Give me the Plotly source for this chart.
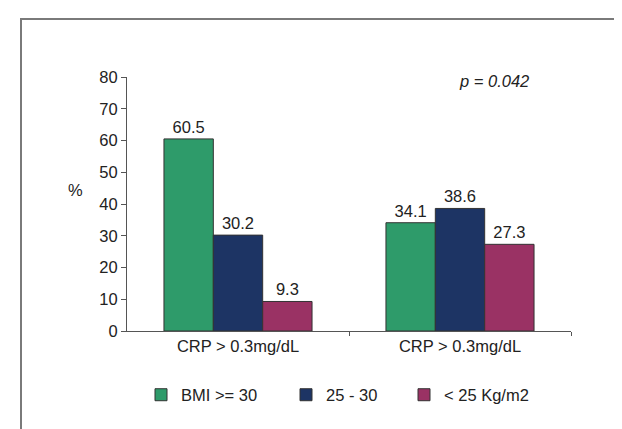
import plotly.graph_objects as go

categories = ["CRP > 0.3mg/dL", "CRP > 0.3mg/dL"]
series_names = ["BMI >= 30", "25 - 30", "< 25 Kg/m2"]
bmi_over_30 = [60.5, 34.1]
bmi_25_30 = [30.2, 38.6]
bmi_under_25 = [9.3, 27.3]
y_ticks = [0, 10, 20, 30, 40, 50, 60, 70, 80]
p_text = "p = 0.042"

colors = ["#2E9B6A", "#1D3464", "#9A3264"]
FONT = "Liberation Sans, Arial, sans-serif"
FS = 16.5

xpos = list(range(len(categories)))
series = [bmi_over_30, bmi_25_30, bmi_under_25]
legend_names = ["legend", "legend2", "legend3"]
legend_x_px = [133, 278, 396]  # left edge of each legend box (pixels)

fig = go.Figure()
for name, vals, col, lg in zip(series_names, series, colors, legend_names):
    fig.add_trace(go.Bar(
        x=xpos, y=vals, name=name, legend=lg,
        marker=dict(color=col, line=dict(color="#333333", width=1)),
        text=[f"{v:.1f}" for v in vals], textposition="outside",
        textfont=dict(family=FONT, size=FS, color="#222222"),
        cliponaxis=False,
    ))

L, R, T, B = 119, 59, 69, 106
W, H = 622, 429
pw, ph = W - L - R, H - T - B

def px_x(x):
    return (x - L) / pw

def px_y(y):
    return (H - B - y) / ph

legend_common = dict(orientation="h", xanchor="left", yanchor="middle",
                     y=px_y(387), font=dict(family=FONT, size=FS, color="#222222"),
                     bgcolor="rgba(0,0,0,0)", itemclick=False)
layout_legends = {}
for lg, xp in zip(legend_names, legend_x_px):
    layout_legends[lg] = dict(legend_common, x=px_x(xp))

fig.update_layout(
    width=W, height=H, autosize=False,
    margin=dict(l=L, r=R, t=T, b=B, pad=0),
    paper_bgcolor="white", plot_bgcolor="white",
    barmode="group", bargap=0.333, bargroupgap=0,
    font=dict(family=FONT, size=FS, color="#222222"),
    showlegend=True,
    **layout_legends,
    xaxis=dict(
        range=[-0.5, len(categories) - 0.5],
        tickmode="array", tickvals=xpos, ticktext=categories,
        ticks="", showgrid=False, zeroline=False,
        showline=True, linecolor="#555555", linewidth=1,
        tickfont=dict(family=FONT, size=FS, color="#222222"),
        minor=dict(tickvals=[p + 0.5 for p in xpos], ticks="outside",
                   ticklen=4, tickcolor="#555555", tickwidth=1, showgrid=False),
        fixedrange=True,
    ),
    yaxis=dict(
        range=[0, 80], tickmode="array", tickvals=y_ticks,
        ticks="outside", ticklen=5, tickcolor="#555555",
        showgrid=False, zeroline=False,
        showline=True, linecolor="#555555", linewidth=1,
        tickfont=dict(family=FONT, size=FS, color="#222222"),
        ticklabelstandoff=0,
        fixedrange=True,
    ),
    annotations=[
        dict(text="%", xref="paper", yref="paper", x=px_x(67), y=px_y(182),
             xanchor="center", yanchor="middle", showarrow=False,
             font=dict(family=FONT, size=FS, color="#222222")),
        dict(text=f"<i>{p_text}</i>", xref="paper", yref="paper",
             x=px_x(523), y=px_y(73), xanchor="right", yanchor="middle",
             showarrow=False, font=dict(family=FONT, size=FS, color="#222222")),
    ],
    shapes=[
        dict(type="rect", xref="paper", yref="paper",
             x0=px_x(13), x1=px_x(620), y0=px_y(440), y1=px_y(11),
             line=dict(color="#7a7a7a", width=2), fillcolor="rgba(0,0,0,0)",
             layer="below"),
    ],
)

fig.write_html("out.html")
